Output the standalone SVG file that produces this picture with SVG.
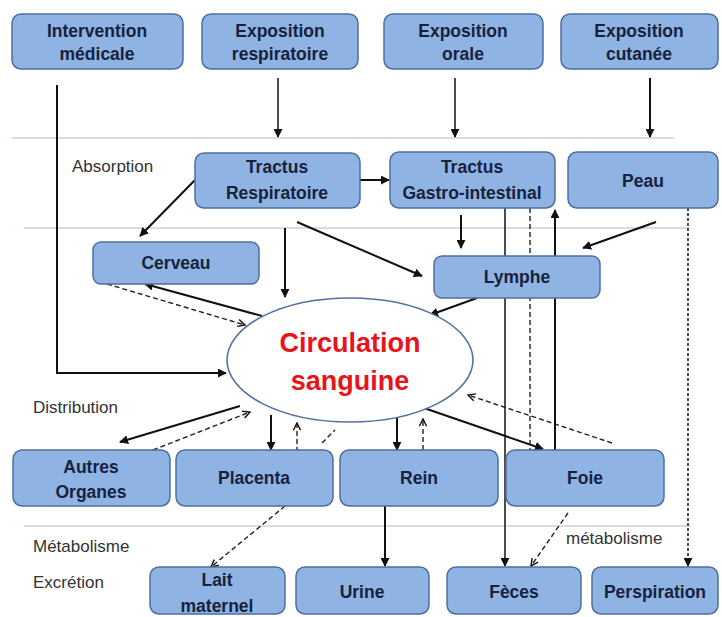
<svg xmlns="http://www.w3.org/2000/svg" width="722" height="617" viewBox="0 0 722 617">
<defs>
<marker id="ah" viewBox="0 0 10 10" refX="9" refY="5" markerWidth="9" markerHeight="9" markerUnits="userSpaceOnUse" orient="auto">
<path d="M0,0 L10,5 L0,10 z" fill="#111"/>
</marker>
<marker id="ao" viewBox="0 0 10 10" refX="9" refY="5" markerWidth="9" markerHeight="9" markerUnits="userSpaceOnUse" orient="auto">
<path d="M1,1 L9,5 L1,9" fill="none" stroke="#111" stroke-width="1.6"/>
</marker>
<style>
.box{fill:#8fb3e3;stroke:#4d6f9e;stroke-width:1.5}
.bt{font-family:"Liberation Sans",Arial,sans-serif;font-weight:bold;font-size:17.5px;fill:#17223d;text-anchor:middle}
.lb{font-family:"Liberation Sans",Arial,sans-serif;font-size:17px;fill:#333}
.sep{stroke:#a9bbd4;stroke-width:1.2;fill:none}
.s{stroke:#111;stroke-width:2;fill:none;marker-end:url(#ah)}
.s1{stroke:#111;stroke-width:1.5;fill:none;marker-end:url(#ah)}
.d{stroke:#222;stroke-width:1.4;fill:none;stroke-dasharray:5,3;marker-end:url(#ao)}
.dn{stroke:#222;stroke-width:1.4;fill:none;stroke-dasharray:5,3}
.dt{stroke:#222;stroke-width:1.6;fill:none;stroke-dasharray:3,2;marker-end:url(#ah)}
.red{font-family:"Liberation Sans",Arial,sans-serif;font-weight:bold;font-size:27px;fill:#e8141b;text-anchor:middle}
</style>
</defs>
<rect width="722" height="617" fill="#fff"/>
<g id="separators">
<line class="sep" x1="12" y1="138" x2="674" y2="138"/>
<line class="sep" x1="24" y1="228" x2="690" y2="228"/>
<line class="sep" x1="24" y1="526" x2="690" y2="526"/>
</g>
<g id="labels">
<text class="lb" x="72" y="172">Absorption</text>
<text class="lb" x="33" y="413">Distribution</text>
<text class="lb" x="33" y="552">Métabolisme</text>
<text class="lb" x="33" y="588">Excrétion</text>
<text class="lb" x="566" y="544">métabolisme</text>
</g>
<g id="connectors">
<polyline class="s" points="57,85 57,373 226,373"/>
<line class="s1" x1="278" y1="78" x2="278" y2="137"/>
<line class="s1" x1="455" y1="78" x2="455" y2="137"/>
<line class="s" x1="650" y1="78" x2="650" y2="137"/>
<line class="s" x1="360" y1="180" x2="389" y2="180"/>
<line class="s" x1="195" y1="180" x2="140" y2="236"/>
<line class="s" x1="285" y1="228" x2="285" y2="297"/>
<line class="s" x1="297" y1="222" x2="422" y2="276"/>
<line class="s" x1="461" y1="215" x2="461" y2="248"/>
<line class="s" x1="656" y1="222" x2="583" y2="248"/>
<line class="s" x1="477" y1="298" x2="430" y2="315"/>
<line class="s" x1="262" y1="316" x2="145" y2="284"/>
<line class="d" x1="107" y1="284" x2="245" y2="325"/>
<line class="s" x1="240" y1="406" x2="120" y2="442"/>
<line class="d" x1="153" y1="450" x2="250" y2="412"/>
<line class="s" x1="271" y1="415" x2="271" y2="450"/>
<line class="d" x1="297" y1="452" x2="297" y2="423"/>
<line class="dn" x1="322" y1="443" x2="335" y2="430"/>
<line class="d" x1="285" y1="506" x2="211" y2="567"/>
<line class="s" x1="397" y1="415" x2="397" y2="450"/>
<line class="d" x1="423" y1="450" x2="423" y2="419"/>
<line class="s" x1="424" y1="408" x2="543" y2="449"/>
<line class="d" x1="612" y1="443" x2="468" y2="395"/>
<line class="s1" x1="505" y1="208" x2="505" y2="566"/>
<line class="dn" x1="530" y1="208" x2="530" y2="450"/>
<line class="s" x1="555" y1="450" x2="555" y2="210"/>
<line class="dt" x1="688" y1="208" x2="688" y2="566"/>
<line class="d" x1="568" y1="513" x2="531" y2="566"/>
<line class="s" x1="385" y1="506" x2="385" y2="566"/>
</g>
<g id="intervention"><rect class="box" x="12" y="14" width="171" height="55" rx="9"/><text class="bt" x="97" y="37">Intervention</text><text class="bt" x="97" y="60">médicale</text></g>
<g id="expo-resp"><rect class="box" x="202" y="14" width="156" height="55" rx="9"/><text class="bt" x="280" y="37">Exposition</text><text class="bt" x="280" y="60">respiratoire</text></g>
<g id="expo-orale"><rect class="box" x="384" y="14" width="159" height="55" rx="9"/><text class="bt" x="463" y="37">Exposition</text><text class="bt" x="463" y="60">orale</text></g>
<g id="expo-cut"><rect class="box" x="561" y="14" width="157" height="55" rx="9"/><text class="bt" x="639" y="37">Exposition</text><text class="bt" x="639" y="60">cutanée</text></g>
<g id="tractus-resp"><rect class="box" x="195" y="153" width="165" height="55" rx="9"/><text class="bt" x="277" y="173">Tractus</text><text class="bt" x="277" y="199">Respiratoire</text></g>
<g id="tractus-gi"><rect class="box" x="390" y="152" width="165" height="56" rx="9"/><text class="bt" x="472" y="173">Tractus</text><text class="bt" x="472" y="199">Gastro-intestinal</text></g>
<g id="peau"><rect class="box" x="568" y="152" width="150" height="56" rx="9"/><text class="bt" x="643" y="187">Peau</text></g>
<g id="cerveau"><rect class="box" x="93" y="242" width="166" height="42" rx="8"/><text class="bt" x="176" y="269">Cerveau</text></g>
<g id="lymphe"><rect class="box" x="434" y="256" width="166" height="42" rx="8"/><text class="bt" x="517" y="283">Lymphe</text></g>
<g id="circulation"><ellipse cx="350" cy="360" rx="123" ry="62" fill="#fff" stroke="#5572a0" stroke-width="1.6"/><text class="red" x="350" y="352">Circulation</text><text class="red" x="350" y="390">sanguine</text></g>
<g id="autres"><rect class="box" x="13" y="450" width="157" height="56" rx="9"/><text class="bt" x="91" y="473">Autres</text><text class="bt" x="91" y="498">Organes</text></g>
<g id="placenta"><rect class="box" x="176" y="450" width="157" height="56" rx="9"/><text class="bt" x="254" y="484">Placenta</text></g>
<g id="rein"><rect class="box" x="340" y="450" width="158" height="56" rx="9"/><text class="bt" x="419" y="484">Rein</text></g>
<g id="foie"><rect class="box" x="506" y="450" width="158" height="56" rx="9"/><text class="bt" x="585" y="484">Foie</text></g>
<g id="lait"><rect class="box" x="150" y="567" width="135" height="47" rx="9"/><text class="bt" x="217" y="586">Lait</text><text class="bt" x="217" y="612">maternel</text></g>
<g id="urine"><rect class="box" x="296" y="567" width="133" height="47" rx="9"/><text class="bt" x="362" y="598">Urine</text></g>
<g id="feces"><rect class="box" x="447" y="567" width="134" height="47" rx="9"/><text class="bt" x="514" y="598">Fèces</text></g>
<g id="perspiration"><rect class="box" x="592" y="567" width="126" height="47" rx="9"/><text class="bt" x="655" y="598">Perspiration</text></g>
</svg>
